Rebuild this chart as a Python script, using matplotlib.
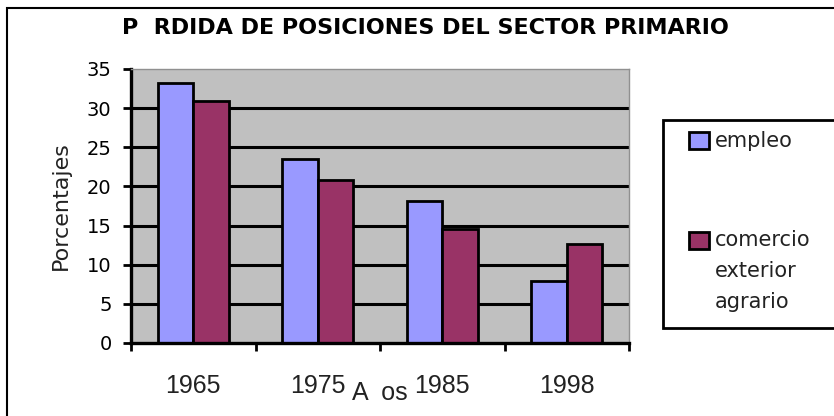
import matplotlib
matplotlib.use("Agg")
import matplotlib.pyplot as plt
from matplotlib.patches import Rectangle
import numpy as np

# ---- data ----
years = ["1965", "1975", "1985", "1998"]
series_names = ["empleo", "comercio\nexterior\nagrario"]
empleo = [33.2, 23.5, 18.1, 7.9]
comercio = [30.9, 20.8, 14.6, 12.7]
y_ticks = [0, 5, 10, 15, 20, 25, 30, 35]
title = "P  RDIDA DE POSICIONES DEL SECTOR PRIMARIO"
xlabel = "A  os"
ylabel = "Porcentajes"

# ---- style ----
c_emp = "#9999FF"
c_com = "#993366"
bg = "#C0C0C0"
W, H = 834, 416

def fx(x):
    return x / W

def fy(y):
    return 1 - y / H

fig = plt.figure(figsize=(W / 100, H / 100), dpi=100)
fig.patch.set_facecolor("white")

ax = fig.add_axes([fx(131), fy(343), (629 - 131) / W, (343 - 69) / H])
ax.set_facecolor(bg)

x = np.arange(len(years))
bw = 0.285
ax.bar(x - bw / 2, empleo, bw, color=c_emp, edgecolor="black", linewidth=2, zorder=2)
ax.bar(x + bw / 2, comercio, bw, color=c_com, edgecolor="black", linewidth=2, zorder=2)

ax.set_xlim(-0.5, len(years) - 0.5)
ax.set_ylim(y_ticks[0], y_ticks[-1])

# y axis
ax.set_yticks(y_ticks)
ax.set_yticklabels([str(t) for t in y_ticks], family="DejaVu Sans", fontsize=14)
ax.tick_params(axis="y", direction="out", length=6, width=2, pad=8, colors="black")

# x axis: labels at centers, ticks at boundaries
ax.set_xticks(x)
ax.set_xticklabels(years, family="Liberation Sans", fontsize=18, color="#222222")
ax.tick_params(axis="x", which="major", length=0, pad=22)
ax.set_xticks(np.arange(-0.5, len(years), 1.0), minor=True)
ax.tick_params(axis="x", which="minor", direction="out", length=6, width=2, color="black")

# grid
ax.set_axisbelow(True)
ax.yaxis.grid(True, color="black", linewidth=2.2)
gl = ax.get_ygridlines()
gl[0].set_visible(False)
gl[-1].set_visible(False)

for s in ["left", "bottom"]:
    ax.spines[s].set_color("black")
    ax.spines[s].set_linewidth(2.4)
for s in ["top", "right"]:
    ax.spines[s].set_color("#909090")
    ax.spines[s].set_linewidth(1)

# title and axis labels
fig.text(fx(425.5), fy(33.5), title, ha="center", va="baseline",
         fontsize=16, fontweight="bold", family="DejaVu Sans")
fig.text(fx(380), fy(400), xlabel, ha="center", va="baseline",
         fontsize=18, family="Liberation Sans", color="#222222")
fig.text(fx(66.5), fy(206), ylabel, ha="center", va="baseline", rotation=90,
         rotation_mode="anchor", fontsize=16, family="DejaVu Sans", color="#222222")

# figure frame (left and top edges visible)
fig.patches.append(Rectangle((fx(7), -0.2), 1.2, fy(8) + 0.2, transform=fig.transFigure,
                             fill=False, edgecolor="black", linewidth=1.5))

# legend (manual, to mimic the original layout)
fig.patches.append(Rectangle((fx(663), fy(328)), 1.2, (328 - 120) / H,
                             transform=fig.transFigure, facecolor="white",
                             edgecolor="black", linewidth=2, zorder=5))
leg_colors = [c_emp, c_com]
leg_swatch_top = [132, 232]
leg_baseline = [147, 246]
line_step = 31
for name, col, st, bl in zip(series_names, leg_colors, leg_swatch_top, leg_baseline):
    fig.patches.append(Rectangle((fx(689), fy(st + 17)), 20 / W, 17 / H,
                                 transform=fig.transFigure, facecolor=col,
                                 edgecolor="black", linewidth=2, zorder=6))
    for i, line in enumerate(name.split("\n")):
        fig.text(fx(715), fy(bl + i * line_step), line, ha="left", va="baseline",
                 fontsize=15, family="DejaVu Sans", color="#222222", zorder=7)

fig.savefig("out.png", dpi=100)
